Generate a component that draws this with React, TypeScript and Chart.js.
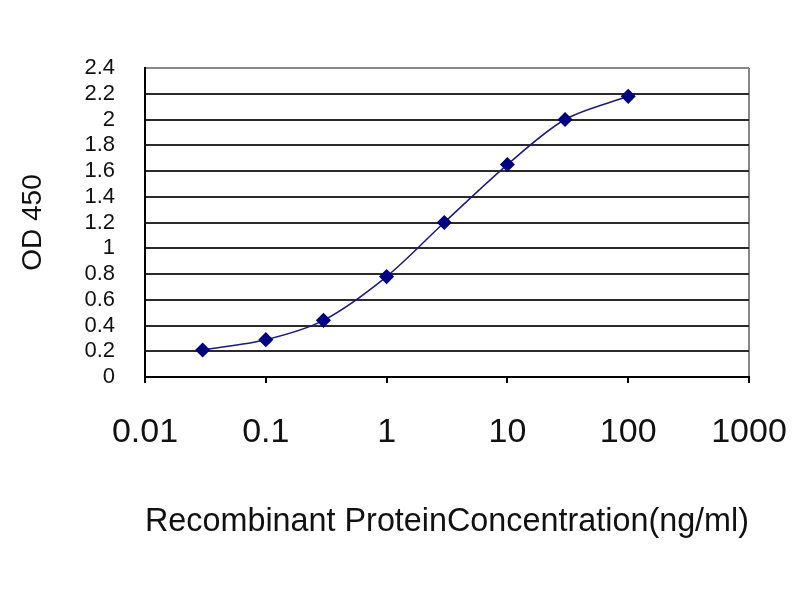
import { useEffect, useRef } from "react"
import { Chart, registerables } from "chart.js"

Chart.register(...registerables)

// concentrations (ng/ml) and measured OD 450
const concentrations = [0.03, 0.1, 0.3, 1, 3, 10, 30, 100]
const odValues = [0.21, 0.29, 0.44, 0.78, 1.2, 1.65, 2.0, 2.18]
const xTicks = [0.01, 0.1, 1, 10, 100, 1000]
const xTickLabels = ["0.01", "0.1", "1", "10", "100", "1000"]

const FONT = "'Liberation Sans', Arial, sans-serif"

export default function App() {
  const chartRef = useRef<HTMLCanvasElement>(null)
  const chartInstance = useRef<Chart | null>(null)

  useEffect(() => {
    if (!chartRef.current) return
    if (chartInstance.current) chartInstance.current.destroy()

    const ctx = chartRef.current.getContext("2d")
    if (!ctx) return

    chartInstance.current = new Chart(ctx, {
      type: "scatter",
      data: {
        datasets: [
          {
            data: concentrations.map((c, i) => ({ x: c, y: odValues[i] })),
            showLine: true,
            borderColor: "#1a1a80",
            borderWidth: 1.5,
            tension: 0.3,
            pointStyle: "rectRot",
            pointRadius: 6.5,
            pointBackgroundColor: "#000080",
            pointBorderColor: "#000080",
          },
        ],
      },
      options: {
        responsive: false,
        animation: false,
        layout: { padding: { left: 0, top: 68, right: 51, bottom: 0 } },
        plugins: {
          legend: { display: false },
          tooltip: { enabled: false },
        },
        scales: {
          x: {
            type: "logarithmic",
            min: 0.01,
            max: 1000,
            afterBuildTicks: (scale: any) => {
              scale.ticks = xTicks.map((v) => ({ value: v }))
            },
            afterFit: (scale: any) => {
              scale.height = 223
              scale.paddingLeft = 0
              scale.paddingRight = 0
            },
            ticks: {
              autoSkip: false,
              maxRotation: 0,
              padding: 29,
              color: "#111",
              font: { family: FONT, size: 34 },
              callback: (v: any) => {
                const i = xTicks.indexOf(Number(v))
                return i >= 0 ? xTickLabels[i] : ""
              },
            },
            grid: {
              drawTicks: true,
              tickLength: 6,
              tickColor: "#000",
              color: (c: any) => (c.tick && c.tick.value === 1000 ? "#888" : "transparent"),
              lineWidth: 2,
            },
            border: { display: true, color: "#000", width: 2 },
            title: {
              display: true,
              text: "Recombinant ProteinConcentration(ng/ml)",
              color: "#111",
              font: { family: FONT, size: 34 },
              padding: { top: 0, bottom: 58 },
            },
          },
          y: {
            min: 0,
            max: 2.4,
            afterFit: (scale: any) => {
              scale.width = 145
            },
            ticks: {
              stepSize: 0.2,
              autoSkip: false,
              padding: 30,
              color: "#111",
              font: { family: FONT, size: 22 },
              callback: (v: any) => String(Number(Number(v).toFixed(1))),
            },
            grid: {
              drawTicks: false,
              color: (c: any) =>
                c.tick && Math.abs(c.tick.value - 2.4) < 1e-6 ? "#888" : "#2a2a2a",
              lineWidth: 2,
            },
            border: { display: true, color: "#000", width: 2 },
            title: {
              display: true,
              text: "OD 450",
              color: "#111",
              font: { family: FONT, size: 28 },
              padding: { top: 16, bottom: 0 },
            },
          },
        },
      },
    })

    return () => {
      if (chartInstance.current) {
        chartInstance.current.destroy()
        chartInstance.current = null
      }
    }
  }, [])

  return (
    <div style={{ position: "absolute", left: 0, top: 0, width: 800, height: 600, background: "#fff" }}>
      <canvas ref={chartRef} width={800} height={600} style={{ display: "block" }} />
    </div>
  )
}
